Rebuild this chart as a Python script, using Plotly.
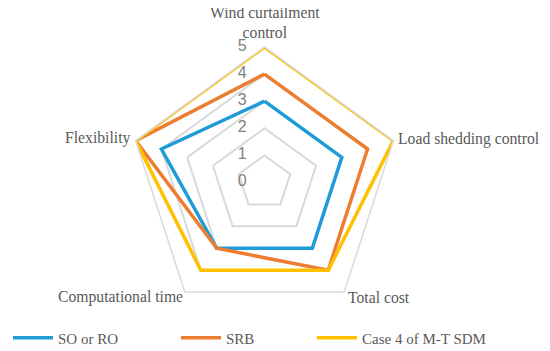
import plotly.graph_objects as go

categories = ["Wind curtailment<br>control", "Load shedding control", "Total cost",
              "Computational time", "Flexibility"]
series_names = ["SO or RO", "SRB", "Case 4 of M-T SDM"]
so_ro = [3, 3, 3, 3, 4]
srb = [4, 4, 4, 3, 5]
case4 = [5, 5, 4, 4, 5]
colors = ["#1F9BD7", "#ED7D31", "#FFC000"]
tick_vals = [0, 1, 2, 3, 4, 5]
tick_text = [str(v) for v in tick_vals]

W, H = 550, 351
cx, cy, R = 256.5, 174.5, 135.5
OFF = 8  # page body offset of the plot in the browser

fig = go.Figure()
legend_x = [12, 180, 316]
for i, (name, vals, col) in enumerate(zip(series_names, [so_ro, srb, case4], colors)):
    fig.add_trace(go.Scatterpolar(
        r=vals + vals[:1], theta=categories + categories[:1],
        mode="lines", name=name,
        line=dict(color=col, width=3.5),
        legend="legend" if i == 0 else f"legend{i+1}",
    ))

# radial tick labels, placed on the left of the top spoke
pad = "\u00a0" * 4
fig.add_trace(go.Scatterpolar(
    r=[max(v, 0.001) for v in tick_vals], theta=[categories[0]] * len(tick_vals),
    mode="text", text=[t + pad for t in tick_text], textposition="middle left",
    textfont=dict(family="Liberation Sans", size=16, color="#808080"),
    showlegend=False, hoverinfo="skip", cliponaxis=False,
))

# category labels around the radar (target pixels on screen, converted to paper coords)
label_pos = [(265, 22.5, "center"), (398, 139, "left"), (348, 297, "left"),
             (183, 297, "right"), (131, 138, "right")]
adj = {"center": 0, "left": -2, "right": 2}
for cat, (px, py, anchor) in zip(categories, label_pos):
    fig.add_annotation(text=cat, x=(px - OFF + adj[anchor]) / W, y=1 - (py - OFF) / H,
                       xref="paper", yref="paper",
                       xanchor=anchor, yanchor="middle", showarrow=False,
                       font=dict(family="Liberation Serif", size=15.7, color="#595959"))

legend_common = dict(orientation="h", yanchor="middle", xanchor="left",
                     y=1 - 330 / H, bgcolor="rgba(0,0,0,0)", itemwidth=40,
                     font=dict(family="Liberation Serif", size=15, color="#595959"))
layout_legends = {}
for i, lx in enumerate(legend_x):
    key = "legend" if i == 0 else f"legend{i+1}"
    layout_legends[key] = dict(legend_common, x=(lx - 12) / W)

fig.update_layout(
    width=W, height=H,
    margin=dict(l=0, r=0, t=0, b=0, autoexpand=False),
    paper_bgcolor="white",
    showlegend=True,
    polar=dict(
        domain=dict(x=[(cx - R) / W, (cx + R) / W], y=[1 - (cy + R) / H, 1 - (cy - R) / H]),
        bgcolor="white",
        gridshape="linear",
        radialaxis=dict(range=[0, 5], tickvals=tick_vals, showticklabels=False,
                        angle=90, showline=False, ticks="",
                        gridcolor="#D9D9D9", gridwidth=1.5),
        angularaxis=dict(rotation=90, direction="clockwise", showgrid=False,
                         showticklabels=False,
                         showline=True, linecolor="#D9D9D9", linewidth=1.5, ticks=""),
    ),
    **layout_legends,
)

fig.write_html("out.html")
